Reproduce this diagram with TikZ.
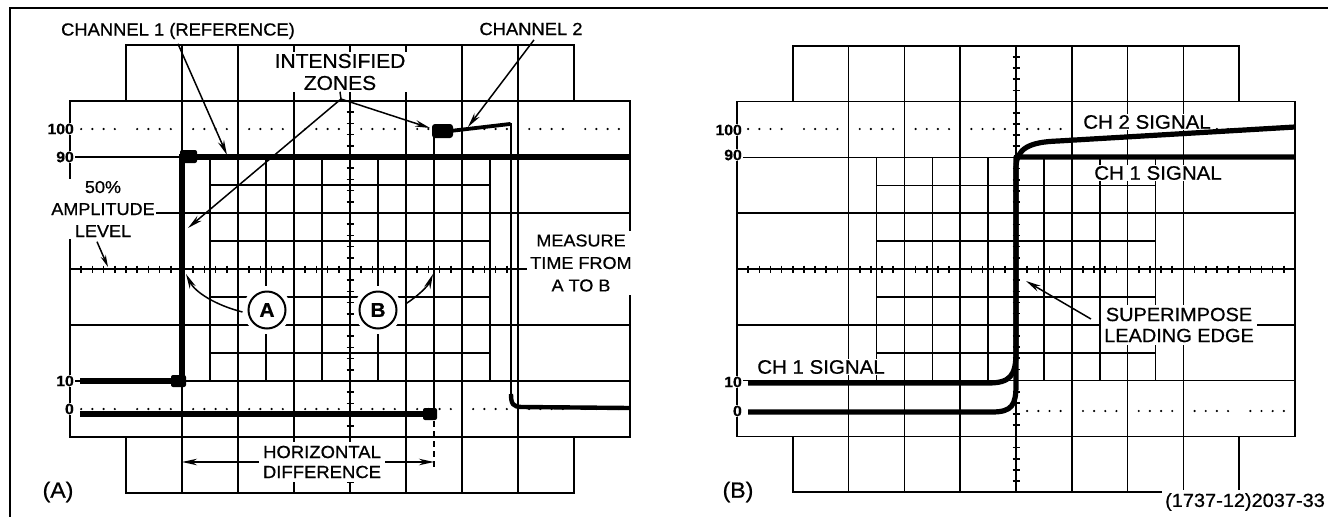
\documentclass[tikz,border=0pt]{standalone}
\usepackage{fontspec}
\setmainfont[FakeStretch=1.05,FakeBold=0.7]{Liberation Sans}
\usetikzlibrary{arrows.meta}
\newcommand\drawgrat[3]{%
  \draw[gridline] ({#1-5*#3},{#2-3*#3}) rectangle ({#1+5*#3},{#2+3*#3});
  \draw[gridline] ({#1-4*#3},{#2-3*#3}) -- ({#1-4*#3},{#2-4*#3}) -- ({#1+4*#3},{#2-4*#3}) -- ({#1+4*#3},{#2-3*#3});
  \draw[gridline] ({#1-4*#3},{#2+3*#3}) -- ({#1-4*#3},{#2+4*#3}) -- ({#1+4*#3},{#2+4*#3}) -- ({#1+4*#3},{#2+3*#3});
  \foreach \k in {-3,...,3}{\draw[gridline] ({#1+\k*#3},{#2-4*#3}) -- ({#1+\k*#3},{#2+4*#3});}
  \foreach \k in {-2,...,2}{\draw[gridline] ({#1-5*#3},{#2+\k*#3}) -- ({#1+5*#3},{#2+\k*#3});}
  \foreach \k in {-2.5,-1.5,...,2.5}{\draw[gridline] ({#1+\k*#3},{#2-2*#3}) -- ({#1+\k*#3},{#2+2*#3});}
  \foreach \k in {-1.5,-0.5,...,1.5}{\draw[gridline] ({#1-2.5*#3},{#2+\k*#3}) -- ({#1+2.5*#3},{#2+\k*#3});}
  \foreach \t in {-19,...,19}{\draw[gridline] ({#1-3.5},{#2+\t*0.2*#3}) -- ({#1+3.5},{#2+\t*0.2*#3});}
  \foreach \t in {-24,...,24}{\draw[gridline] ({#1+\t*0.2*#3},{#2-3.5}) -- ({#1+\t*0.2*#3},{#2+3.5});}
}
\newcommand\dotrow[5]{%
  \foreach \k in {#4,...,#5}{\foreach \f in {0.2,0.4,0.6,0.8}{\fill ({#1+(\k+\f)*#2},#3) circle[radius=1.2pt];}}}
\begin{document}
\begin{tikzpicture}[x=1pt,y=-1pt,
  gridline/.style={line width=1.6pt},
  trace/.style={line width=5.2pt,line join=round},
  thintrace/.style={line width=2.6pt},
  arr/.style={line width=1.5pt,-{Stealth[length=15pt,width=6.5pt]}},
  lbl/.style={fill=white,inner sep=1.5pt,align=center},
  numlbl/.style={font=\fontsize{15}{16}\selectfont\bfseries,fill=white,inner sep=1pt,anchor=east},
  circ/.style={circle,draw,line width=2pt,fill=white,minimum size=37pt,inner sep=0pt,font=\fontsize{20}{21}\selectfont\bfseries},
  ]
\useasboundingbox (0,0) rectangle (1328,517);
% frame
\draw[line width=2.8pt] (9,8) -- (1328,8);
\draw[line width=2.2pt] (10,8) -- (10,517);

%================ PANEL A =================
\drawgrat{350}{269}{56}
\dotrow{350}{56}{129}{-5}{4}
\dotrow{350}{56}{409}{-5}{4}

% number labels
\node[numlbl] (a100) at (75,129) {100};
\node[numlbl] (a90) at (75,157) {90};
\node[numlbl] (a10) at (75,381) {10};
\node[numlbl] (a0) at (75,409) {0};

% channel 1 trace
\draw[trace,line join=miter] (80,381) -- (182,381) -- (182,157) -- (630,157);
\fill[rounded corners=2pt] (171,375) rectangle (186,387);
\fill[rounded corners=2pt] (180,150) rectangle (197,163);
% channel 2 trace
\draw[trace] (80,414) -- (430,414);
\fill[rounded corners=2pt] (423,408) rectangle (437,420);
\draw[thintrace] (434,416) -- (434,128);
\fill[rounded corners=3pt] (432,124) rectangle (453,138);
\draw[line width=3.8pt,line cap=round] (450,131) -- (510,124);
\draw[thintrace] (511,123) -- (511,396);
\draw[line width=4.4pt] (511,394) .. controls (511,404) and (513,407) .. (522,407) -- (630,408);
\draw[gridline,dash pattern=on 6pt off 4pt] (434,421) -- (434,470);

% labels
\node[lbl,font=\fontsize{17.5}{20}\selectfont] (c1l) at (178,31) {CHANNEL 1 (REFERENCE)};
\node[lbl,font=\fontsize{17.5}{20}\selectfont] (c2l) at (531,29) {CHANNEL 2};
\node[lbl,font=\fontsize{20}{22}\selectfont] (izl) at (340,72) {INTENSIFIED\\ZONES};
\coordinate (izfork) at (341,99);
\coordinate (c1tip) at (227,155);
\coordinate (c2tip) at (468,127);
\coordinate (iztipB) at (430,128);
\coordinate (iztipA) at (188,228);
\draw[arr] ([yshift=-3pt]c1l.south) -- (c1tip);
\draw[arr] ([xshift=3pt,yshift=-3pt]c2l.south) -- (c2tip);
\draw[line width=1.5pt] (izl.south) -- (izfork);
\draw[arr] (izfork) -- (iztipB);
\draw[arr] (izfork) -- (iztipA);

\node[lbl,font=\fontsize{17.2}{22}\selectfont] (amp) at (103,209) {50\%\\AMPLITUDE\\LEVEL};
\coordinate (amptip) at (108,267);
\draw[line width=1.5pt,-{Stealth[length=12pt,width=5.5pt]}] ([shift={(-6,3)}]amp.south) -- (amptip);

\node[lbl,font=\fontsize{17.2}{22.5}\selectfont,inner sep=3pt] (meas) at (581,263) {MEASURE\\TIME FROM\\A TO B};

\fill[white] (267,310) circle[radius=24pt];
\fill[white] (378,310) circle[radius=24pt];
\node[circ] (ca) at (267,310) {A};
\node[circ] (cb) at (378,310) {B};
\coordinate (tipA) at (186,274);
\coordinate (tipB) at (433,274);
\draw[arr] ([shift={(-5,2)}]ca.west) .. controls (215,305) and (195,292) .. (tipA);
\draw[arr] ([shift={(8,-6)}]cb.east) .. controls (418,296) and (428,286) .. (tipB);

\node[lbl,font=\fontsize{17.6}{20}\selectfont,inner sep=4pt] (hd) at (322,462) {HORIZONTAL\\DIFFERENCE};
\coordinate (hdl) at (182,462);
\coordinate (hdr) at (434,462);
\draw[arr] (hd.west) -- (hdl);
\draw[arr] (hd.east) -- (hdr);

\node[font=\fontsize{22}{24}\selectfont] (pa) at (58,492) {(A)};

%================ PANEL B =================
\drawgrat{1016}{269}{55.8}
\dotrow{1016}{55.8}{129}{-5}{4}
\dotrow{1016}{55.8}{411}{0}{4}

\node[numlbl] (b100) at (743,130) {100};
\node[numlbl] (b90) at (743,155) {90};
\node[numlbl] (b10) at (743,382) {10};
\node[numlbl] (b0) at (743,411) {0};

\node[lbl,font=\fontsize{19.5}{21}\selectfont] (ch2s) at (1147,122) {CH 2 SIGNAL};
\node[lbl,font=\fontsize{19.5}{21}\selectfont] (ch1s) at (1158,173) {CH 1 SIGNAL};
\node[lbl,font=\fontsize{19.5}{21}\selectfont] (ch1b) at (821,367) {CH 1 SIGNAL};

% traces
\draw[trace] (748,383) -- (988,383) .. controls (1010,383) and (1016,376) .. (1016,352) -- (1016,157) -- (1295,157);
\draw[trace] (748,412) -- (992,412) .. controls (1012,412) and (1016,405) .. (1016,385) -- (1016,168) .. controls (1016,148) and (1030,142) .. (1058,141) -- (1295,127);

\node[lbl,font=\fontsize{19}{21}\selectfont,inner sep=3pt] (sup) at (1179,325) {SUPERIMPOSE\\LEADING EDGE};
\coordinate (suptip) at (1026,281);
\draw[arr] ([shift={(-10,-6)}]sup.west) -- (suptip);

\node[font=\fontsize{22}{24}\selectfont] (pb) at (738,492) {(B)};
\node[lbl,font=\fontsize{19}{20}\selectfont,inner sep=3pt] (code) at (1245,502) {(1737-12)2037-33};
\end{tikzpicture}
\end{document}
